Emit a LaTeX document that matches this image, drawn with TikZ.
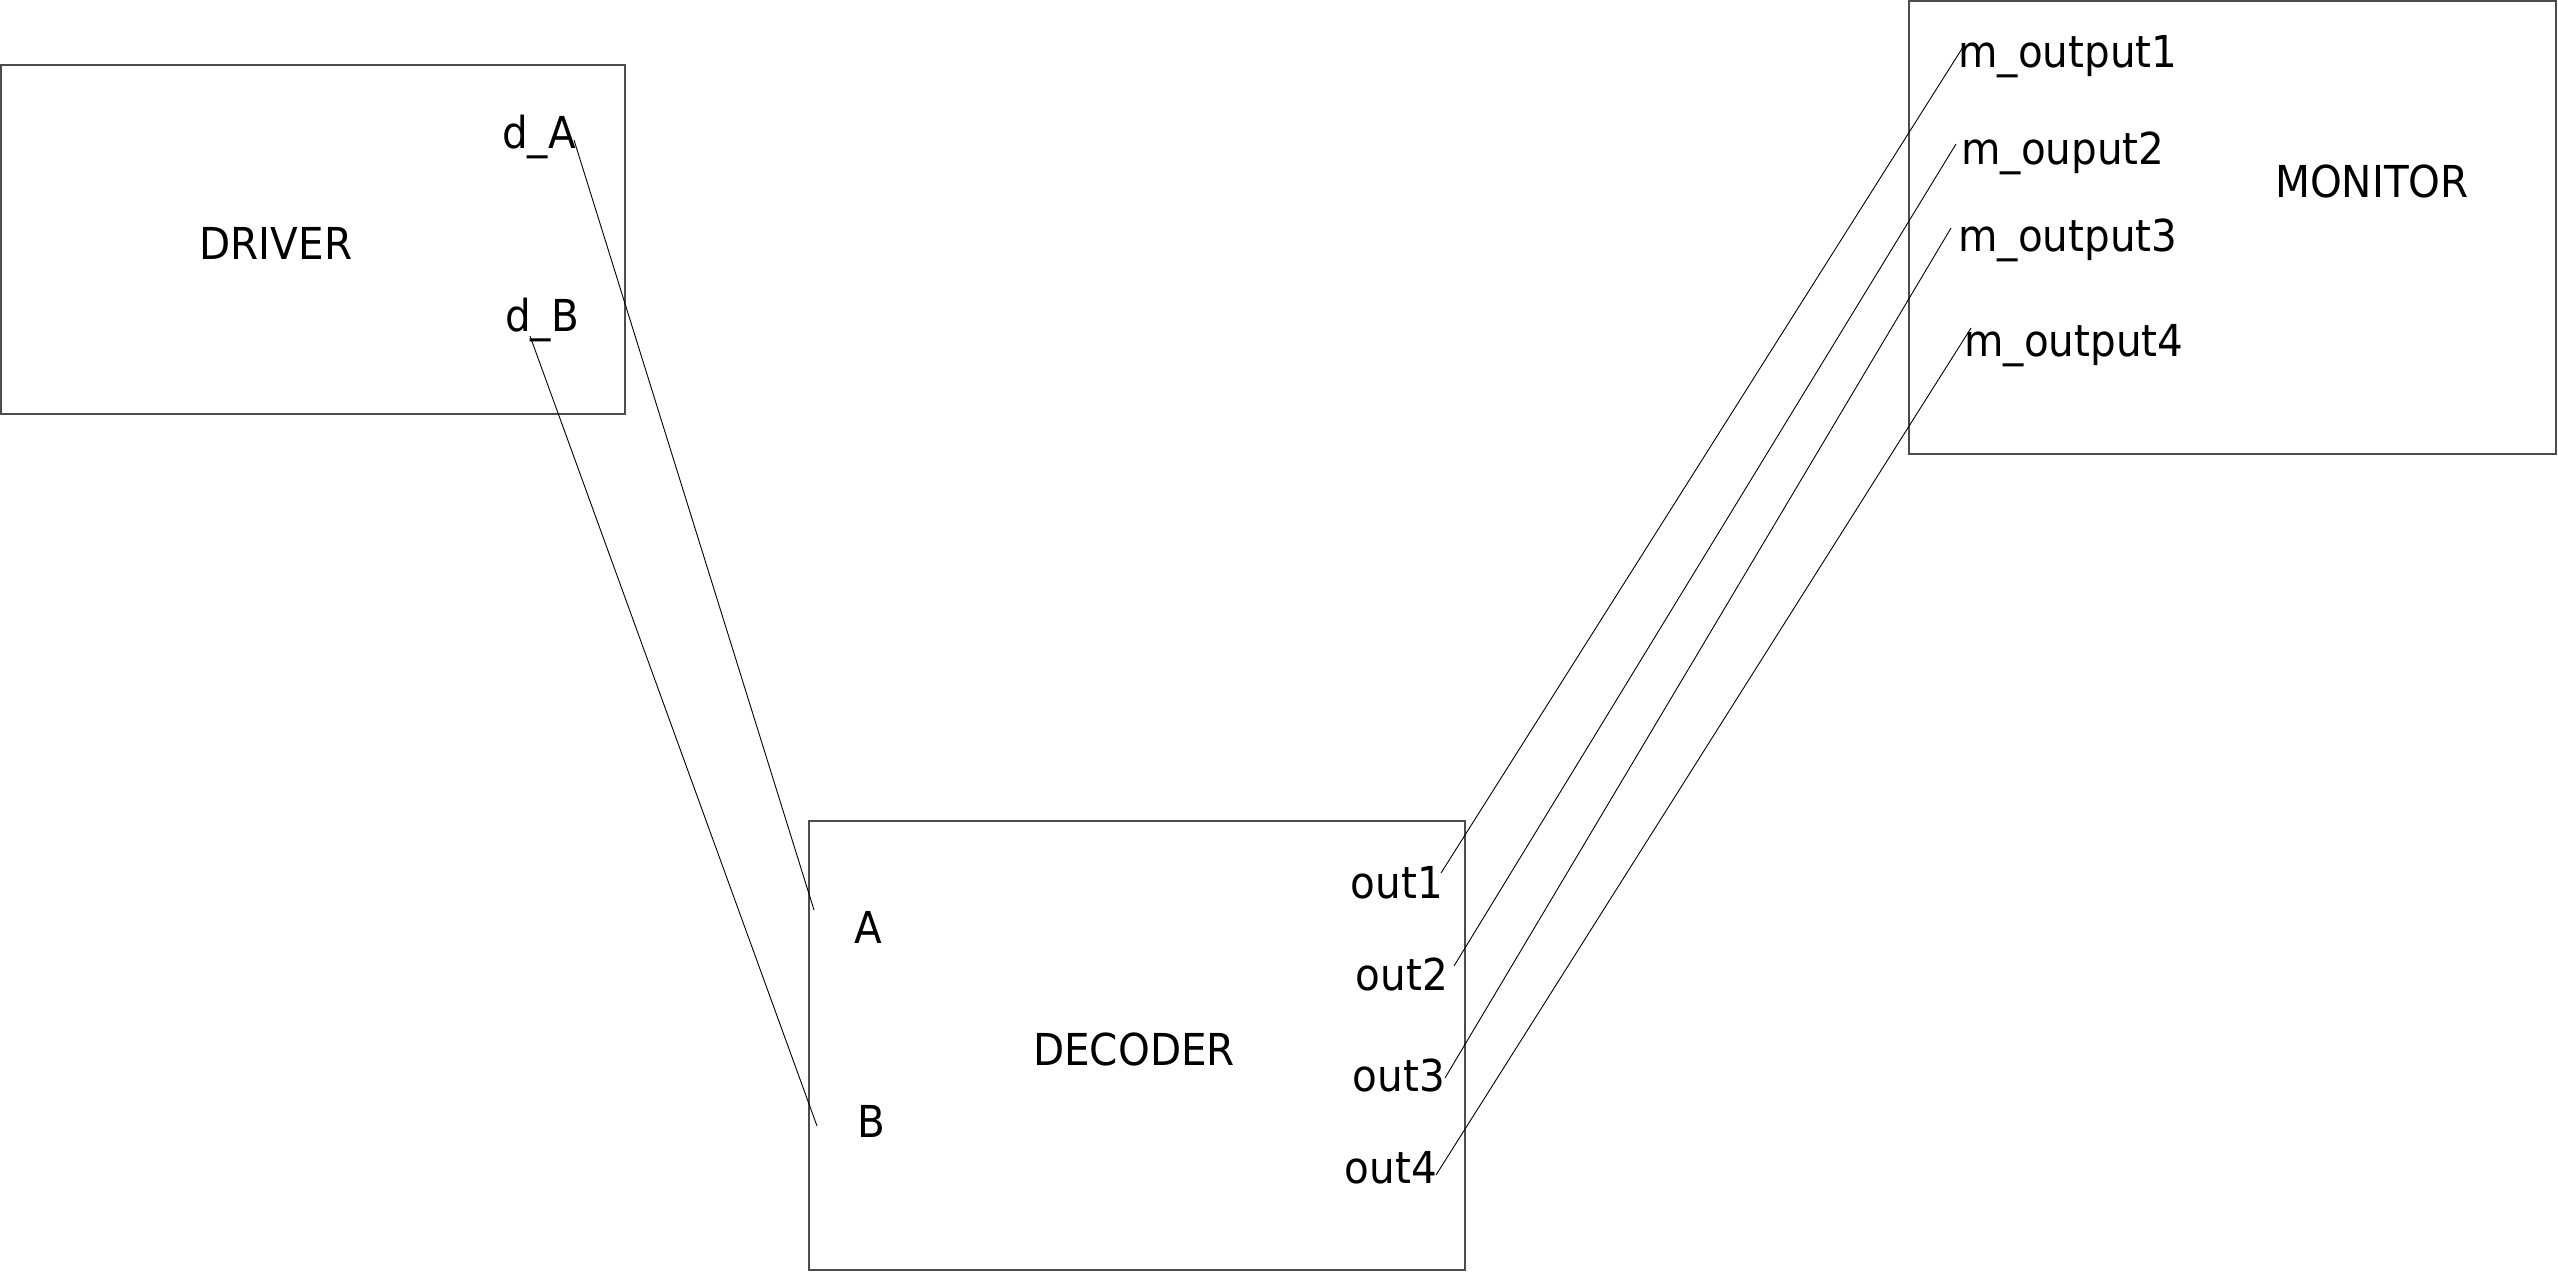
\documentclass[tikz,border=0pt]{standalone}
\usepackage{fontspec}
\setmainfont[FakeStretch=0.92]{DejaVu Sans}
\begin{document}
\begin{tikzpicture}[x=0.5pt,y=-0.5pt,
  blockbox/.style={draw=black!70,line width=0.7pt},
  lbl/.style={inner sep=0pt,font=\fontsize{22}{26}\selectfont},
  wire/.style={draw=black,line width=0.45pt}]
\useasboundingbox (0,0) rectangle (2558,1272);
% boxes
\draw[blockbox] (1,65) rectangle (625,414);
\draw[blockbox] (809,821) rectangle (1465,1270);
\draw[blockbox] (1909,1) rectangle (2556,454);
% titles
\node[lbl] (driver) at (276,243) {DRIVER};
\node[lbl] (decoder) at (1134,1049) {DECODER};
\node[lbl] (monitor) at (2372,181) {MONITOR};
% port labels
\node[lbl] (dA) at (539,137) {d\_A};
\node[lbl] (dB) at (542,320) {d\_B};
\node[lbl] (A) at (868,927) {A};
\node[lbl] (B) at (871,1121) {B};
\node[lbl] (o1) at (1397,883) {out1};
\node[lbl] (o2) at (1402,974) {out2};
\node[lbl] (o3) at (1399,1075) {out3};
\node[lbl] (o4) at (1391,1168) {out4};
\node[lbl] (m1) at (2068,57) {m\_output1};
\node[lbl] (m2) at (2063,153) {m\_ouput2};
\node[lbl] (m3) at (2068,240) {m\_output3};
\node[lbl] (m4) at (2074,346) {m\_output4};
% wire end points
\coordinate (dAp) at (574,140);
\coordinate (Ap) at (814,910);
\coordinate (dBp) at (530,336);
\coordinate (Bp) at (817,1126);
\coordinate (o1p) at (1441,873);
\coordinate (m1p) at (1963,47);
\coordinate (o2p) at (1454,966);
\coordinate (m2p) at (1956,144);
\coordinate (o3p) at (1445,1078);
\coordinate (m3p) at (1951,228);
\coordinate (o4p) at (1436,1175);
\coordinate (m4p) at (1971,328);
% wires
\draw[wire] (dAp) -- (Ap);
\draw[wire] (dBp) -- (Bp);
\draw[wire] (o1p) -- (m1p);
\draw[wire] (o2p) -- (m2p);
\draw[wire] (o3p) -- (m3p);
\draw[wire] (o4p) -- (m4p);
\end{tikzpicture}
\end{document}
